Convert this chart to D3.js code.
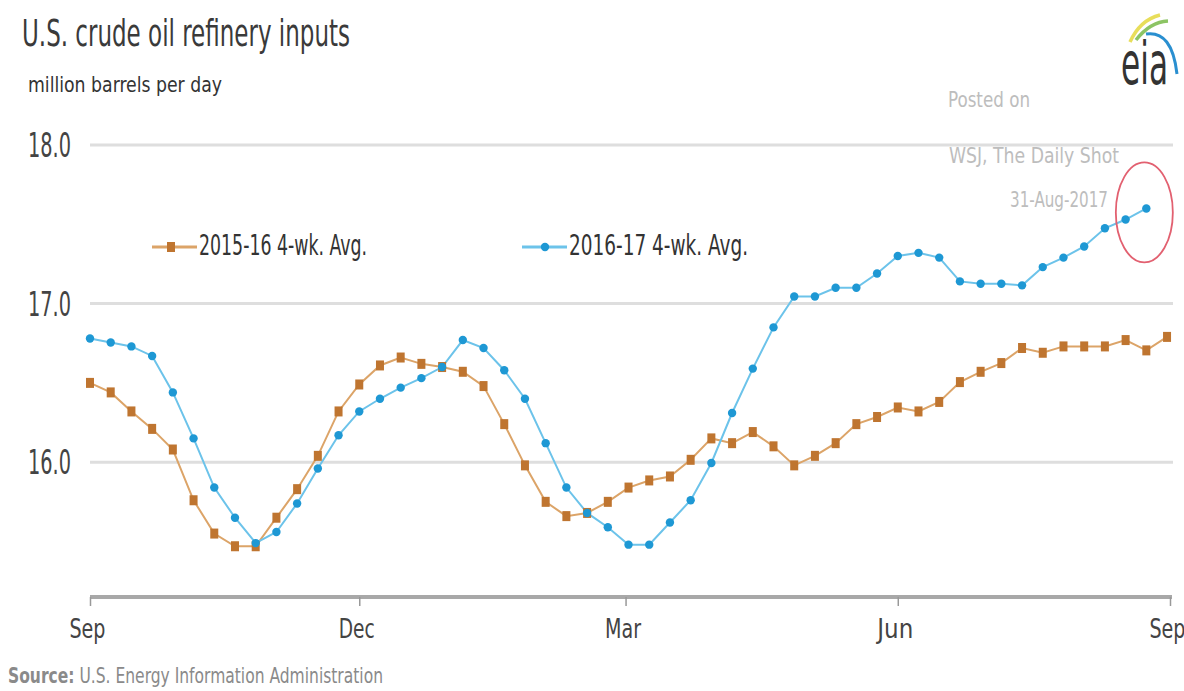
<!DOCTYPE html>
<html>
<head>
<meta charset="utf-8">
<script src="https://cdn.jsdelivr.net/npm/d3@7"></script>
<style>
  html, body { margin: 0; padding: 0; background: #fff; }
  svg { display: block; }
  text { font-family: "Liberation Sans Narrow", "DejaVu Sans Condensed", "Liberation Sans", sans-serif; }
</style>
</head>
<body>
<svg id="chart" width="1184" height="691"></svg>
<script>
// ---- data ----
const title = "U.S. crude oil refinery inputs";
const subtitle = "million barrels per day";
const seriesNames = ["2015-16 4-wk. Avg.", "2016-17 4-wk. Avg."];
const startDate = new Date(2016, 8, 1);   // weekly points from Sep 1
const values1516 = [16.50,16.44,16.32,16.21,16.08,15.76,15.55,15.47,15.47,15.65,
  15.83,16.04,16.32,16.49,16.61,16.66,16.62,16.60,16.57,16.48,
  16.24,15.98,15.75,15.66,15.68,15.75,15.84,15.885,15.91,16.015,
  16.15,16.12,16.19,16.10,15.98,16.04,16.12,16.24,16.285,16.345,
  16.32,16.38,16.505,16.57,16.625,16.72,16.69,16.73,16.73,16.73,
  16.77,16.705,16.79];
const values1617 = [16.78,16.755,16.73,16.67,16.44,16.15,15.84,15.65,15.49,15.56,
  15.74,15.96,16.17,16.32,16.40,16.47,16.53,16.60,16.77,16.72,
  16.58,16.40,16.12,15.84,15.68,15.59,15.48,15.48,15.62,15.76,
  15.995,16.31,16.59,16.85,17.045,17.045,17.10,17.10,17.19,17.30,
  17.32,17.29,17.14,17.125,17.125,17.115,17.23,17.29,17.36,17.475,
  17.53,17.60];
const xTickDates = [new Date(2016,8,1), new Date(2016,11,1), new Date(2017,2,1), new Date(2017,5,1), new Date(2017,8,1)];
const yTickValues = [16, 17, 18];
const postedLines = ["Posted on", "WSJ, The Daily Shot", "31-Aug-2017"];
const sourceLabel = "Source:";
const sourceText = " U.S. Energy Information Administration";

// ---- layout ----
const svg = d3.select("#chart");
const x = d3.scaleTime().domain([new Date(2016,8,1), new Date(2017,8,1)]).range([90, 1170]);
const y = d3.scaleLinear().domain([15.15, 18]).range([597, 145]);
const dateOf = i => d3.timeDay.offset(startDate, 7 * i);

const orangeLine = "#dca468", orangeMark = "#bf7530";
const blueLine = "#6cc3ea", blueMark = "#1e98d4";

// gridlines
svg.append("g").selectAll("line").data(yTickValues).join("line")
  .attr("x1", 90).attr("x2", 1173)
  .attr("y1", d => y(d)).attr("y2", d => y(d))
  .attr("stroke", "#dedede").attr("stroke-width", 3);

// y labels
svg.append("g").selectAll("text").data(yTickValues).join("text")
  .attr("x", 71).attr("y", d => y(d) + 12)
  .attr("text-anchor", "end")
  .attr("font-size", 34).attr("fill", "#444")
  .attr("textLength", 43).attr("lengthAdjust", "spacingAndGlyphs")
  .text(d3.format(".1f"));

// x axis
const xAxis = d3.axisBottom(x).tickValues(xTickDates).tickFormat(d3.timeFormat("%b")).tickSize(9).tickPadding(14);
const gx = svg.append("g").attr("transform", "translate(0,597)").call(xAxis);
gx.select(".domain").attr("stroke", "#a8a8a8").attr("stroke-width", 4).attr("d", "M90,0H1172");
gx.selectAll(".tick line").attr("stroke", "#999").attr("stroke-width", 1.5);
gx.selectAll(".tick text")
  .attr("font-family", "Liberation Sans Narrow, DejaVu Sans Condensed, sans-serif")
  .attr("font-size", 26).attr("fill", "#444")
  .attr("dx", -3)
  .attr("textLength", 36).attr("lengthAdjust", "spacingAndGlyphs");

// lines
const line = d3.line().x((d, i) => x(dateOf(i))).y(d => y(d));
svg.append("path").datum(values1516).attr("d", line)
  .attr("fill", "none").attr("stroke", orangeLine).attr("stroke-width", 2);
svg.append("path").datum(values1617).attr("d", line)
  .attr("fill", "none").attr("stroke", blueLine).attr("stroke-width", 2);

// markers
svg.append("g").selectAll("rect").data(values1516).join("rect")
  .attr("x", (d, i) => x(dateOf(i)) - 4).attr("y", d => y(d) - 5)
  .attr("width", 8).attr("height", 10)
  .attr("fill", orangeMark);
svg.append("g").selectAll("circle").data(values1617).join("circle")
  .attr("cx", (d, i) => x(dateOf(i))).attr("cy", d => y(d))
  .attr("r", 4.2).attr("fill", blueMark);

// title / subtitle
svg.append("text").attr("x", 22).attr("y", 46).attr("font-size", 38).attr("fill", "#3a3a3a")
  .attr("textLength", 328).attr("lengthAdjust", "spacingAndGlyphs").text(title);
svg.append("text").attr("x", 28).attr("y", 92).attr("font-size", 21).attr("fill", "#333")
  .attr("textLength", 194).attr("lengthAdjust", "spacingAndGlyphs").text(subtitle);

// legend
const legend = [
  {name: seriesNames[0], x0: 152, color: orangeLine, mark: orangeMark, shape: "rect", tl: 168},
  {name: seriesNames[1], x0: 522, color: blueLine, mark: blueMark, shape: "circle", tl: 179}
];
const lg = svg.append("g").selectAll("g").data(legend).join("g");
lg.append("line").attr("x1", d => d.x0).attr("x2", d => d.x0 + 45)
  .attr("y1", 247).attr("y2", 247).attr("stroke", d => d.color).attr("stroke-width", 3);
lg.filter(d => d.shape === "rect").append("rect")
  .attr("x", d => d.x0 + 15).attr("y", 242).attr("width", 8).attr("height", 10).attr("fill", d => d.mark);
lg.filter(d => d.shape === "circle").append("circle")
  .attr("cx", d => d.x0 + 23).attr("cy", 247).attr("r", 4.2).attr("fill", d => d.mark);
lg.append("text").attr("x", d => d.x0 + 47).attr("y", 255)
  .attr("font-size", 28).attr("fill", "#333")
  .attr("textLength", d => d.tl).attr("lengthAdjust", "spacingAndGlyphs")
  .text(d => d.name);

// posted-on annotation
const posted = [
  {t: postedLines[0], x: 948, y: 107, tl: 82},
  {t: postedLines[1], x: 949, y: 163, tl: 170},
  {t: postedLines[2], x: 1010, y: 207, tl: 98}
];
svg.append("g").selectAll("text").data(posted).join("text")
  .attr("x", d => d.x).attr("y", d => d.y)
  .attr("font-size", 22).attr("fill", "#bdbdbd")
  .attr("textLength", d => d.tl).attr("lengthAdjust", "spacingAndGlyphs")
  .text(d => d.t);

// red ellipse highlight around the latest point
const last = values1617.length - 1;
svg.append("ellipse")
  .attr("cx", x(dateOf(last)) - 2).attr("cy", y(values1617[last]) + 4)
  .attr("rx", 28.5).attr("ry", 50)
  .attr("fill", "none").attr("stroke", "#e26070").attr("stroke-width", 1.8);

// source
const src = svg.append("text").attr("x", 8).attr("y", 683).attr("font-size", 22).attr("fill", "#8a8a8a")
  .attr("textLength", 375).attr("lengthAdjust", "spacingAndGlyphs");
src.append("tspan").attr("font-weight", "bold").text(sourceLabel);
src.append("tspan").text(sourceText);

// eia logo
const logo = svg.append("g");
logo.append("path").attr("d", "M1130,42 Q1140,20 1160,15").attr("fill", "none").attr("stroke", "#e8de5a").attr("stroke-width", 3.5);
logo.append("path").attr("d", "M1136,40 Q1150,22 1168,21").attr("fill", "none").attr("stroke", "#8cc464").attr("stroke-width", 3.5);
logo.append("path").attr("d", "M1146,34 Q1172,30 1177,74").attr("fill", "none").attr("stroke", "#2a8fd0").attr("stroke-width", 3);
logo.append("text").attr("x", 1121).attr("y", 84)
  .attr("font-family", "Liberation Serif, DejaVu Serif, serif")
  .attr("font-size", 58).attr("fill", "#333")
  .attr("textLength", 47).attr("lengthAdjust", "spacingAndGlyphs").text("eia");
</script>
</body>
</html>
